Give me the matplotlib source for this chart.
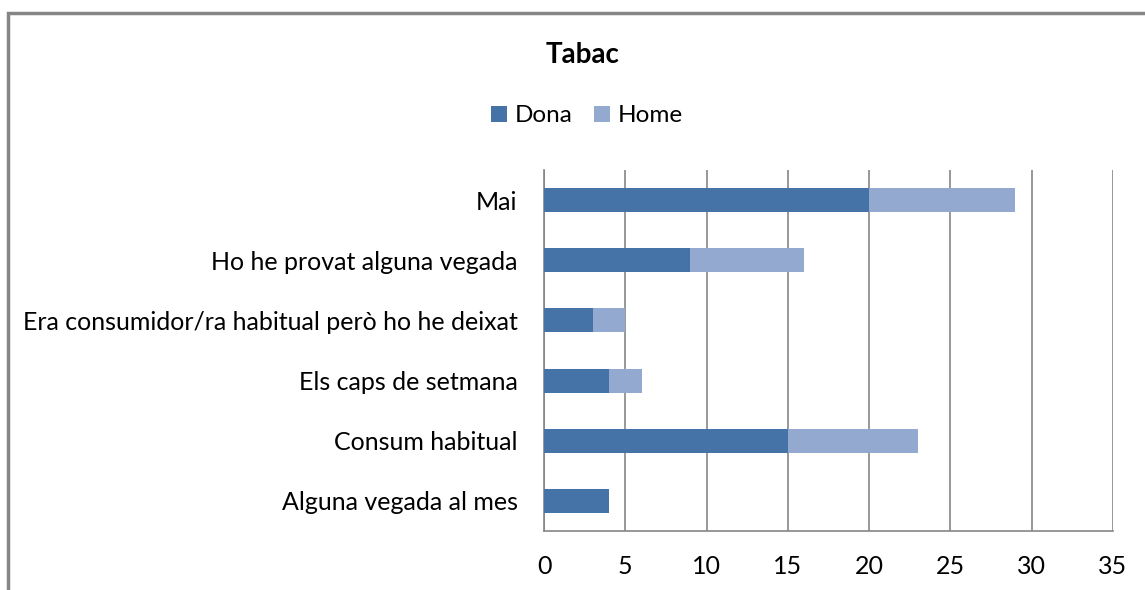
import matplotlib.pyplot as plt
from matplotlib.patches import Rectangle

# data
categories = ["Mai", "Ho he provat alguna vegada", "Era consumidor/ra habitual però ho he deixat",
              "Els caps de setmana", "Consum habitual", "Alguna vegada al mes"]
dona = [20, 9, 3, 4, 15, 4]
home = [9, 7, 2, 2, 8, 0]

plt.rcParams['font.family'] = ['Lato', 'DejaVu Sans']

fig = plt.figure(figsize=(11.45, 5.9), dpi=100)
ax = fig.add_axes([544/1145, 1-531/590, (1113-544)/1145, (531-170)/590])

# outer chart border (cropped at right and bottom)
fig.patches.append(Rectangle((8/1145, -0.1), 1.2, 1-13/590+0.1, transform=fig.transFigure,
                             fill=False, edgecolor="#868686", linewidth=2.5))

y = list(range(len(categories)))
ax.barh(y, dona, height=0.4, color="#4572A7", label="Dona", zorder=3)
ax.barh(y, home, left=dona, height=0.4, color="#93A9CF", label="Home", zorder=3)

ax.set_xlim(0, 35)
ax.set_ylim(5.5, -0.5)
ax.set_xticks(range(0, 36, 5))
ax.set_yticks(y)
ax.set_yticklabels(categories)
ax.grid(axis="x", color="#868686", linewidth=1.2, zorder=0)
for s in ["top", "right"]:
    ax.spines[s].set_visible(False)
for s in ["left", "bottom"]:
    ax.spines[s].set_color("#868686")
    ax.spines[s].set_linewidth(1.2)
ax.tick_params(axis="both", length=0, labelsize=18)
ax.tick_params(axis="x", pad=17)
ax.tick_params(axis="y", pad=19)

fig.text(583/1145, 1-55/590, "Tabac", ha="center", va="center", fontsize=20, fontweight="bold")
fig.legend(loc="center", bbox_to_anchor=(587/1145, 1-116/590), ncol=2, frameon=False,
           fontsize=17.5, handlelength=0.65, handleheight=0.65, handletextpad=0.35, columnspacing=0.85)

fig.savefig("out.png", dpi=100)
